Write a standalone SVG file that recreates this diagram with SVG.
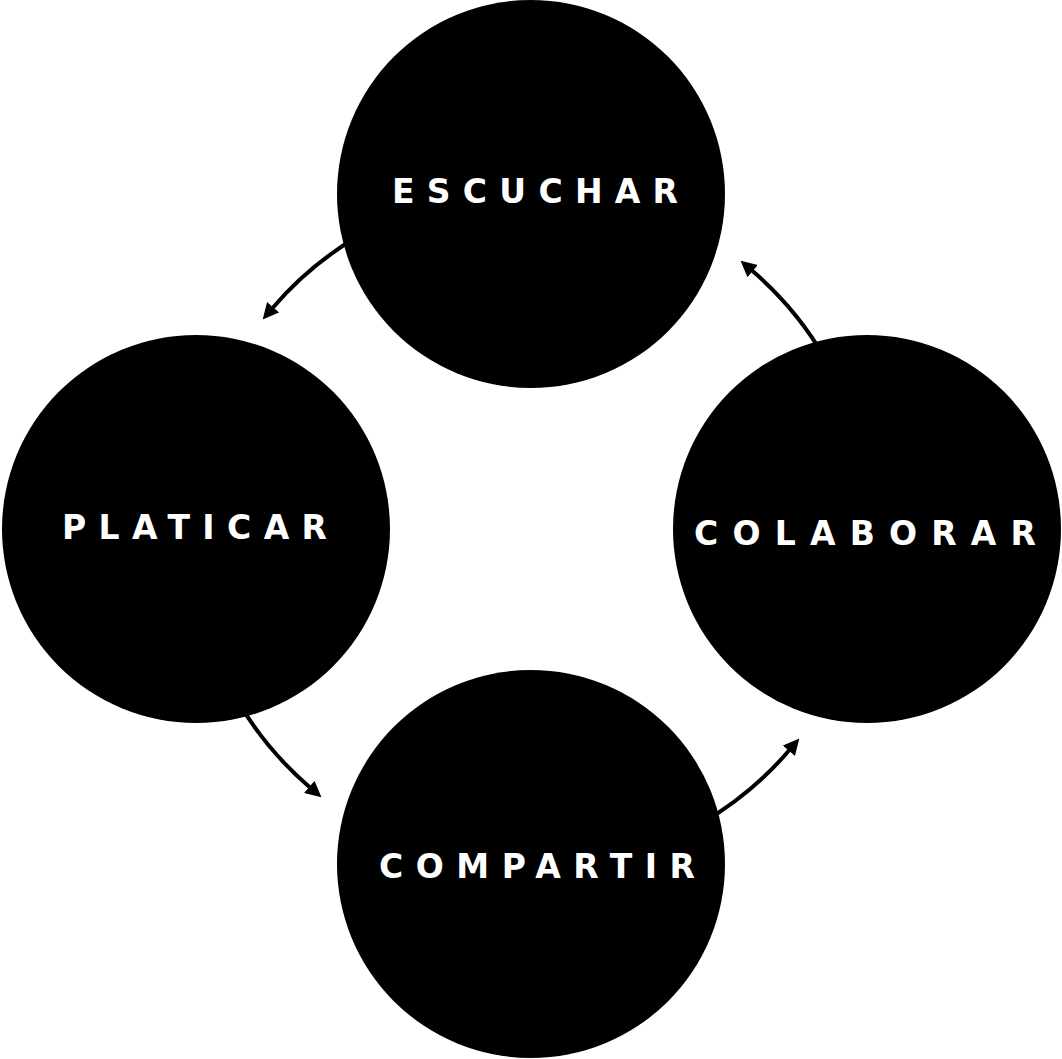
<svg xmlns="http://www.w3.org/2000/svg" width="1062" height="1059" viewBox="0 0 1062 1059">
  <defs>
    <marker id="arrow" viewBox="0 -8 16 16" markerWidth="16" markerHeight="16" refX="0.5" refY="0" orient="auto" markerUnits="userSpaceOnUse">
      <path d="M0,-8 L16,0 L0,8 Z" fill="#000"/>
    </marker>
    <style>
      .node { fill: #000; }
      .label { fill: #fff; font-family: "DejaVu Sans", "Liberation Sans", sans-serif; font-weight: 700; font-size: 33px; }
      .conn { fill: none; stroke: #000; stroke-width: 4; marker-end: url(#arrow); }
    </style>
  </defs>
  <rect width="1062" height="1059" fill="#fff"/>
  <g id="connectors">
    <path class="conn" d="M361,234.55 A340,340 0 0 0 272.8,307.7"/>
    <path class="conn" d="M236.55,699 A340,340 0 0 0 309.7,787.2"/>
    <path class="conn" d="M701,823.45 A340,340 0 0 0 789.2,750.3"/>
    <path class="conn" d="M825.45,359 A340,340 0 0 0 752.3,270.8"/>
  </g>
  <g id="escuchar">
    <circle class="node" cx="531" cy="194" r="194"/>
    <text class="label" x="392" y="203" textLength="286" lengthAdjust="spacing">ESCUCHAR</text>
  </g>
  <g id="platicar">
    <circle class="node" cx="196" cy="529" r="194"/>
    <text class="label" x="62" y="539" textLength="265" lengthAdjust="spacing">PLATICAR</text>
  </g>
  <g id="colaborar">
    <circle class="node" cx="867" cy="529" r="194"/>
    <text class="label" x="694" y="545" textLength="342" lengthAdjust="spacing">COLABORAR</text>
  </g>
  <g id="compartir">
    <circle class="node" cx="531" cy="864" r="194"/>
    <text class="label" x="379" y="878" textLength="316" lengthAdjust="spacing">COMPARTIR</text>
  </g>
</svg>
